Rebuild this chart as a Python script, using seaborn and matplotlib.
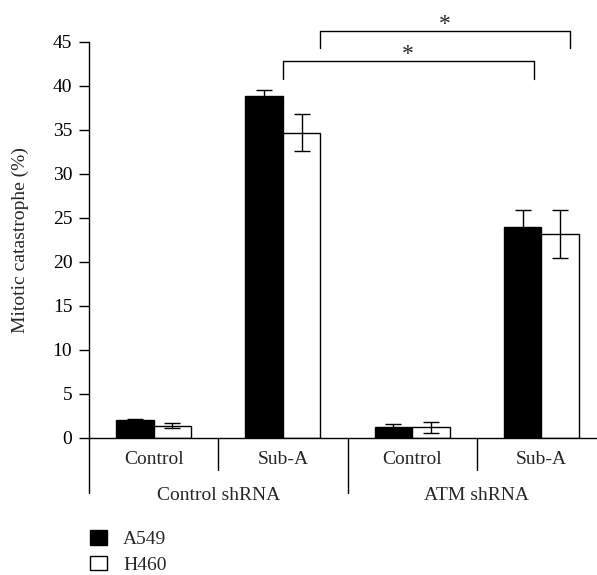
"""Mitotic catastrophe by shRNA and treatment, A549 vs H460."""

import matplotlib

matplotlib.use("Agg")
import matplotlib.pyplot as plt
import pandas as pd
import seaborn as sns

conditions = ["Control", "Sub-A", "Control ", "Sub-A "]
shrna_groups = ["Control shRNA", "ATM shRNA"]
cell_lines = ["A549", "H460"]
a549_mean = [2.1, 38.9, 1.3, 24.0]
a549_err = [0.05, 0.7, 0.3, 1.9]
h460_mean = [1.4, 34.7, 1.2, 23.2]
h460_err = [0.3, 2.1, 0.6, 2.7]

# significance brackets: (x_left, x_right, y_bottom, y_top)
brackets = [(1.0, 2.94, 40.8, 42.8), (1.285, 3.22, 44.3, 46.25)]

FS = 14

df = pd.DataFrame({
    "condition": conditions * 2,
    "line": [cell_lines[0]] * 4 + [cell_lines[1]] * 4,
    "value": a549_mean + h460_mean,
    "err": a549_err + h460_err,
})

sns.set_theme(style="white")
plt.rcParams["font.family"] = ["Liberation Serif", "DejaVu Serif"]
plt.rcParams["font.size"] = FS

fig = plt.figure(figsize=(5.97, 5.75), dpi=100)
ax = fig.add_axes([89 / 597, 137 / 575, 1 - 89 / 597, 396 / 575])

sns.barplot(
    data=df, x="condition", y="value", hue="line", order=conditions,
    hue_order=cell_lines, palette=["black", "white"], edgecolor="black",
    linewidth=1.0, width=0.58, errorbar=None, ax=ax,
)

# error bars on the drawn bars
for cont, line in zip(ax.containers, cell_lines):
    sub = df[df["line"] == line].set_index("condition").loc[conditions]
    xs = [p.get_x() + p.get_width() / 2 for p in cont]
    ax.errorbar(xs, sub["value"], yerr=sub["err"], fmt="none",
                ecolor="black", elinewidth=1.0, capsize=6, capthick=1.0)

ax.set_xlim(-0.5, 3.43)
ax.set_ylim(0, 45)
ax.set_yticks(range(0, 50, 5))
ax.set_ylabel("Mitotic catastrophe (%)", fontsize=FS, labelpad=17)
ax.set_xlabel("")
ax.set_xticks([])
for s in ["top", "right"]:
    ax.spines[s].set_visible(False)
for s in ["left", "bottom"]:
    ax.spines[s].set_color("black")
    ax.spines[s].set_linewidth(1.0)
ax.tick_params(axis="y", direction="out", length=7, width=1.0, left=True,
               labelsize=FS, colors="black", pad=5)

trans = ax.get_xaxis_transform()
for i, lab in enumerate(conditions):
    ax.text(i, -0.055, lab.strip(), transform=trans, ha="center", va="center",
            fontsize=FS)
for j, lab in enumerate(shrna_groups):
    ax.text(2 * j + 0.5, -0.145, lab, transform=trans, ha="center",
            va="center", fontsize=FS)
for xs, depth in [(0.5, -0.081), (2.5, -0.081), (-0.5, -0.139), (1.5, -0.139)]:
    ax.plot([xs, xs], [0, depth], transform=trans, color="black", lw=1.0,
            clip_on=False)

for x0, x1, y0, y1 in brackets:
    ax.plot([x0, x0, x1, x1], [y0, y1, y1, y0], color="black", lw=1.0,
            clip_on=False)
    ax.text((x0 + x1) / 2, y1 + 0.75, "*", ha="center", va="center",
            fontsize=17)

sns.move_legend(
    ax, loc="upper left", bbox_to_anchor=(90 / 597, 45 / 575),
    bbox_transform=fig.transFigure, frameon=False, title=None, fontsize=FS,
    handlelength=0.88, handleheight=0.78, handletextpad=0.82,
    labelspacing=0.4, borderpad=0, borderaxespad=0,
)

fig.savefig("out.png", dpi=100)
